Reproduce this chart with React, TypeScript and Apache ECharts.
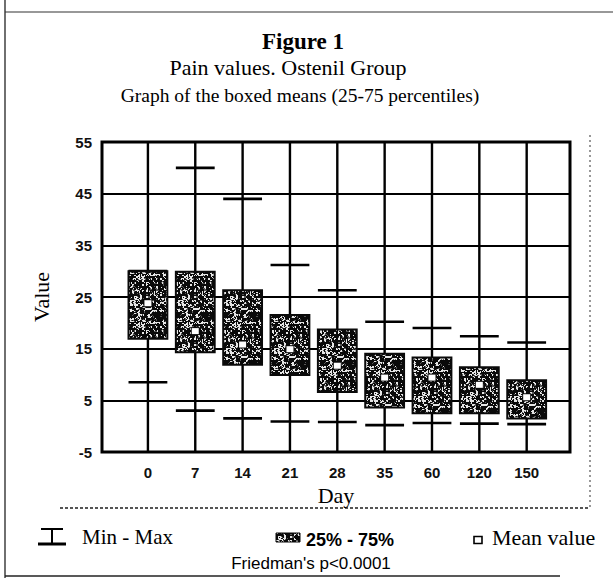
import React, { useEffect, useRef } from "react";
import * as echarts from "echarts";

// ---- data ----
const days = ["0", "7", "14", "21", "28", "35", "60", "120", "150"];
const minVals = [8.5, 3.0, 1.5, 0.9, 0.8, 0.2, 0.6, 0.5, 0.4];
const q1Vals = [16.9, 14.3, 11.9, 9.9, 6.6, 3.6, 2.5, 2.5, 1.5];
const meanVals = [23.8, 18.4, 15.8, 14.9, 11.7, 9.4, 9.4, 8.0, 5.6];
const q3Vals = [30.0, 29.9, 26.3, 21.5, 18.7, 14.0, 13.3, 11.4, 8.9];
const maxVals = [30.0, 50.0, 44.0, 31.2, 26.3, 20.2, 19.0, 17.4, 16.2];
const yTicks = { min: -5, max: 55, interval: 10 };

const SERIF = "'Liberation Serif', 'Times New Roman', serif";
const SANS = "'Liberation Sans', Arial, Helvetica, sans-serif";

function hash(x: number, y: number) {
  const s = Math.sin(x * 12.9898 + y * 78.233) * 43758.5453;
  return s - Math.floor(s);
}

function makeSpeckle(): HTMLCanvasElement {
  const size = 48;
  const c = document.createElement("canvas");
  c.width = size;
  c.height = size;
  const ctx = c.getContext("2d")!;
  ctx.fillStyle = "#0a0a0a";
  ctx.fillRect(0, 0, size, size);
  for (let y = 0; y < size; y++) {
    for (let x = 0; x < size; x++) {
      const v = 0.6 * hash(Math.floor(x / 2), Math.floor(y / 2)) + 0.4 * hash(x + 101, y + 37);
      if (v > 0.66) {
        ctx.fillStyle = "#e6e6e6";
        ctx.fillRect(x, y, 1, 1);
      } else if (v > 0.6) {
        ctx.fillStyle = "#555";
        ctx.fillRect(x, y, 1, 1);
      }
    }
  }
  return c;
}

export default function App() {
  const ref = useRef<HTMLDivElement>(null);

  useEffect(() => {
    if (!ref.current) return;
    const chart = echarts.init(ref.current, undefined, { renderer: "svg" });
    const speckle = makeSpeckle();
    const pattern: any = { image: speckle, repeat: "repeat" };

    const data = days.map((_, i) => [i, minVals[i], q1Vals[i], meanVals[i], q3Vals[i], maxVals[i]]);

    const option: any = {
      animation: false,
      backgroundColor: "#fff",
      grid: {
        left: 102,
        right: 43,
        top: 142,
        bottom: 126,
        show: true,
        borderColor: "#000",
        borderWidth: 3,
        backgroundColor: "transparent",
      },
      xAxis: {
        type: "value",
        min: -0.97,
        max: 8.915,
        name: "Day",
        nameLocation: "middle",
        nameGap: 26,
        nameTextStyle: { fontFamily: SERIF, fontSize: 22, color: "#000" },
        axisLine: { show: false },
        axisTick: { show: false },
        splitLine: { show: false },
        axisLabel: {
          customValues: days.map((_, i) => i),
          formatter: (v: number) => days[Math.round(v)] ?? "",
          fontFamily: SANS,
          fontSize: 15,
          fontWeight: "bold",
          color: "#111",
          margin: 13,
        },
      },
      yAxis: {
        type: "value",
        min: yTicks.min,
        max: yTicks.max,
        interval: yTicks.interval,
        name: "Value",
        nameLocation: "middle",
        nameGap: 50,
        nameRotate: 90,
        nameTextStyle: { fontFamily: SERIF, fontSize: 22, color: "#000" },
        axisLine: { show: false },
        axisTick: { show: false },
        splitLine: { show: true, lineStyle: { color: "#000", width: 2.2 } },
        axisLabel: { fontFamily: SANS, fontSize: 15, fontWeight: "bold", color: "#111", margin: 10 },
      },
      series: [
        {
          type: "custom",
          data,
          encode: { x: 0, y: [1, 2, 3, 4, 5] },
          z: 3,
          renderItem: (params: any, api: any) => {
            const i = api.value(0);
            const lo = api.coord([i, api.value(1)]);
            const q1 = api.coord([i, api.value(2)]);
            const mean = api.coord([i, api.value(3)]);
            const q3 = api.coord([i, api.value(4)]);
            const hi = api.coord([i, api.value(5)]);
            const w = api.size([0.82, 0])[0];
            const cs = params.coordSys;
            const cx = lo[0];
            return {
              type: "group",
              children: [
                {
                  type: "line",
                  shape: { x1: cx, y1: cs.y, x2: cx, y2: cs.y + cs.height },
                  style: { stroke: "#000", lineWidth: 2.4 },
                },
                {
                  type: "line",
                  shape: { x1: cx - w / 2, y1: hi[1], x2: cx + w / 2, y2: hi[1] },
                  style: { stroke: "#000", lineWidth: 2.6 },
                },
                {
                  type: "line",
                  shape: { x1: cx - w / 2, y1: lo[1], x2: cx + w / 2, y2: lo[1] },
                  style: { stroke: "#000", lineWidth: 2.6 },
                },
                {
                  type: "rect",
                  shape: { x: cx - w / 2, y: q3[1], width: w, height: q1[1] - q3[1] },
                  style: { fill: pattern, stroke: "#0a0a0a", lineWidth: 2 },
                },
                {
                  type: "rect",
                  shape: { x: mean[0] - 4.5, y: mean[1] - 4, width: 9, height: 8 },
                  style: { fill: "#0a0a0a" },
                },
                {
                  type: "rect",
                  shape: { x: mean[0] - 3.5, y: mean[1] - 3, width: 7, height: 6 },
                  style: { fill: "#fff" },
                },
              ],
            };
          },
        },
      ],
      graphic: [
        // frame lines
        { type: "line", shape: { x1: 5, y1: 0, x2: 5, y2: 578 }, style: { stroke: "#222", lineWidth: 1.3 } },
        { type: "line", shape: { x1: 5, y1: 12, x2: 613, y2: 12 }, style: { stroke: "#333", lineWidth: 1.2 } },
        {
          type: "line",
          shape: { x1: 60, y1: 508, x2: 589, y2: 508 },
          style: { stroke: "#555", lineWidth: 2, lineDash: [3, 2] },
        },
        {
          type: "line",
          shape: { x1: 590, y1: 135, x2: 590, y2: 508 },
          style: { stroke: "#777", lineWidth: 1.5, lineDash: [2, 3] },
        },
        { type: "line", shape: { x1: 5, y1: 576, x2: 560, y2: 576 }, style: { stroke: "#222", lineWidth: 1.5 } },
        // titles
        {
          type: "text",
          style: {
            text: "Figure 1",
            x: 303,
            y: 41,
            align: "center",
            verticalAlign: "middle",
            font: `bold 23px ${SERIF}`,
            fill: "#000",
          },
        },
        {
          type: "text",
          style: {
            text: "Pain values. Ostenil Group",
            x: 288,
            y: 67,
            align: "center",
            verticalAlign: "middle",
            font: `22px ${SERIF}`,
            fill: "#000",
          },
        },
        {
          type: "text",
          style: {
            text: "Graph of the boxed means (25-75 percentiles)",
            x: 300,
            y: 95,
            align: "center",
            verticalAlign: "middle",
            font: `19.5px ${SERIF}`,
            fill: "#000",
          },
        },
        // legend: min-max icon
        {
          type: "group",
          children: [
            { type: "line", shape: { x1: 41, y1: 529, x2: 63, y2: 529 }, style: { stroke: "#000", lineWidth: 2 } },
            { type: "line", shape: { x1: 52, y1: 529, x2: 52, y2: 544 }, style: { stroke: "#000", lineWidth: 2 } },
            { type: "line", shape: { x1: 38, y1: 544, x2: 66, y2: 544 }, style: { stroke: "#000", lineWidth: 3 } },
          ],
        },
        {
          type: "text",
          style: {
            text: "Min - Max",
            x: 82,
            y: 537,
            align: "left",
            verticalAlign: "middle",
            font: `21px ${SERIF}`,
            fill: "#000",
          },
        },
        // legend: 25-75 swatch
        {
          type: "rect",
          shape: { x: 276, y: 533, width: 24, height: 9 },
          style: { fill: pattern, stroke: "#0a0a0a", lineWidth: 1 },
        },
        {
          type: "text",
          style: {
            text: "25% - 75%",
            x: 306,
            y: 540,
            align: "left",
            verticalAlign: "middle",
            font: `bold 18px ${SANS}`,
            fill: "#000",
          },
        },
        // legend: mean square
        {
          type: "rect",
          shape: { x: 474, y: 536.5, width: 8, height: 7 },
          style: { fill: "#fff", stroke: "#000", lineWidth: 1.6 },
        },
        {
          type: "text",
          style: {
            text: "Mean value",
            x: 492,
            y: 537,
            align: "left",
            verticalAlign: "middle",
            font: `22px ${SERIF}`,
            fill: "#000",
          },
        },
        {
          type: "text",
          style: {
            text: "Friedman's p<0.0001",
            x: 311,
            y: 563,
            align: "center",
            verticalAlign: "middle",
            font: `17px ${SANS}`,
            fill: "#000",
          },
        },
      ],
    };

    chart.setOption(option);
    return () => {
      chart.dispose();
    };
  }, []);

  return (
    <div
      ref={ref}
      style={{ position: "fixed", left: 0, top: 0, width: 613, height: 578, background: "#fff" }}
    />
  );
}
